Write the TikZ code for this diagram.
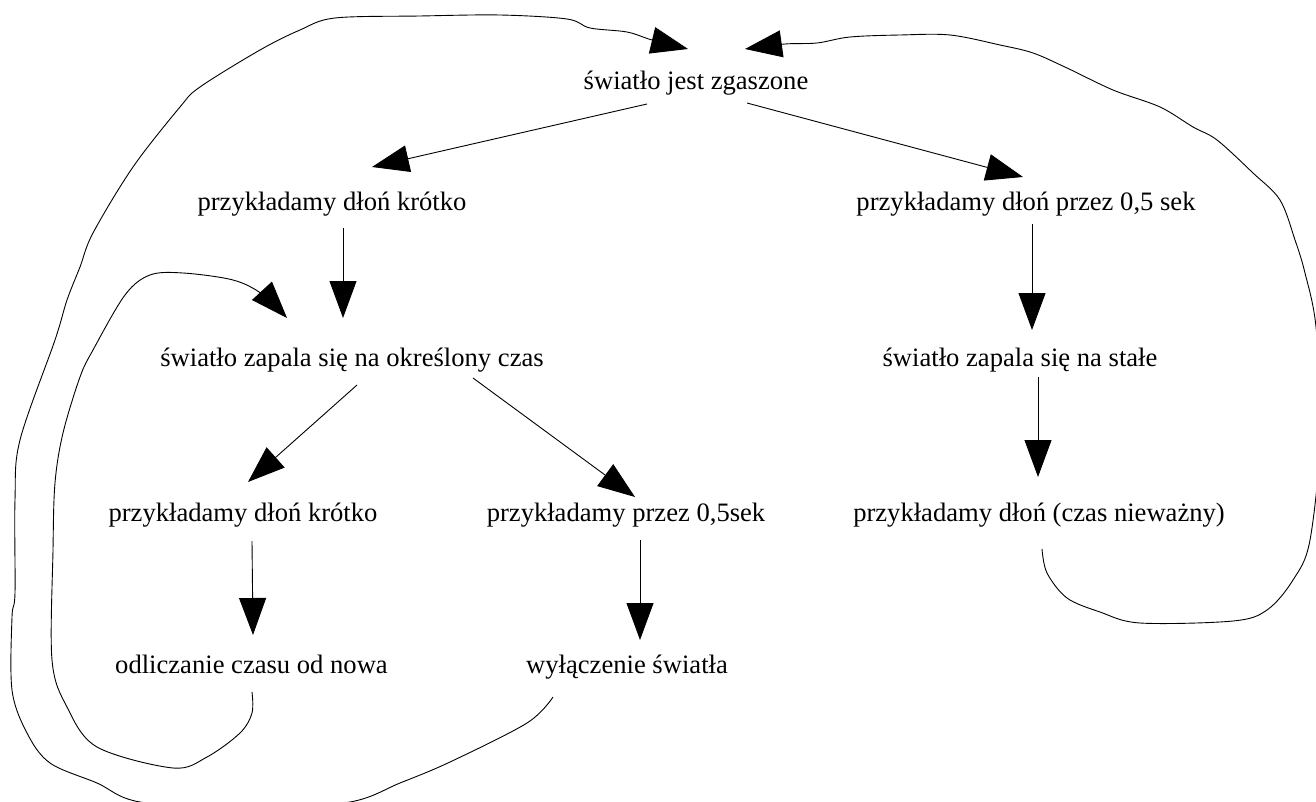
\documentclass[tikz,border=0pt]{standalone}
\usepackage{fontspec}
\setmainfont{Liberation Serif}
\usetikzlibrary{arrows.meta}

\tikzset{
  stan/.style={anchor=base, inner sep=0pt, font=\fontsize{26.6}{32}\selectfont},
  strz/.style={line width=0.9pt, -{Triangle[length=37pt,width=27pt]}},
  petla/.style={line width=0.9pt, -{Triangle[length=37pt,width=27pt]}, smooth, tension=0.55},
}

\begin{document}
\begin{tikzpicture}[x=1pt, y=-1pt]
    \useasboundingbox (0,0) rectangle (1316,802);

    % States
    \node[stan] (zgaszone)  at (696,90)    {światło jest zgaszone};
    \node[stan] (krotko)    at (332,211)   {przykładamy dłoń krótko};
    \node[stan] (pol)       at (1026,211)  {przykładamy dłoń przez 0,5 sek};
    \node[stan] (czas)      at (352,366)   {światło zapala się na określony czas};
    \node[stan] (stale)     at (1020,366)  {światło zapala się na stałe};
    \node[stan] (krotko2)   at (243,521)   {przykładamy dłoń krótko};
    \node[stan] (pol2)      at (626,521)   {przykładamy przez 0,5sek};
    \node[stan] (dowolnie)  at (1039,521)  {przykładamy dłoń (czas nieważny)};
    \node[stan] (odnowa)    at (251.5,673) {odliczanie czasu od nowa};
    \node[stan] (wylacz)    at (627,673)   {wyłączenie światła};

    % Straight transitions
    \draw[strz] ([shift={(-49,14)}]zgaszone.base) -- ([shift={(40,-44)}]krotko.base);
    \draw[strz] ([shift={(51,13)}]zgaszone.base) -- ([shift={(-3,-34)}]pol.base);
    \draw[strz] ([shift={(11,17)}]krotko.base) -- ([shift={(-9,-48)}]czas.base);
    \draw[strz] ([shift={(6,13)}]pol.base) -- ([shift={(12,-36)}]stale.base);
    \draw[strz] ([shift={(5,19)}]czas.base) -- ([shift={(5,-39)}]krotko2.base);
    \draw[strz] ([shift={(121,12)}]czas.base) -- ([shift={(9,-24)}]pol2.base);
    \draw[strz] ([shift={(18,11)}]stale.base) -- ([shift={(-1,-44)}]dowolnie.base);
    \draw[strz] ([shift={(9,20)}]krotko2.base) -- ([shift={(1.5,-38)}]odnowa.base);
    \draw[strz] ([shift={(14,19)}]pol2.base) -- ([shift={(13,-33)}]wylacz.base);

    % Loop back: restart the timer
    \draw[petla] plot coordinates {([shift={(0.5,19)}]odnowa.base) (252,713) (240,733)
        (207,757) (173,768) (97,747) (67,707) (52,660) (53,550) (55,483) (63,433)
        (80,377) (93,350) (125,295) (150,275) (183,273) (233,280) (262,294)
        ([shift={(-65,-48)}]czas.base)};

    % Loop back: light off
    \draw[petla] plot coordinates {([shift={(-74,24)}]wylacz.base) (527,723) (450,762)
        (400,783) (350,802) (250,810) (140,802) (97,783) (50,763) (27,733) (12,690)
        (12,617) (15,593) (15,500) (20,440) (55,340) (67,300) (80,267) (93,233)
        (133,167) (180,107) (200,87) (260,50) (300,30) (335,18) (420,16) (500,15)
        (567,19) (590,28) (627,32) (652,40) ([shift={(-8,-41)}]zgaszone.base)};

    % Loop back: permanent light off
    \draw[petla] plot coordinates {([shift={(3,28)}]dowolnie.base) (1047,573) (1067,598)
        (1100,612) (1140,623) (1233,621) (1267,610) (1293,580) (1310,540) (1321,430)
        (1316,327) (1305,273) (1295,240) (1280,200) (1253,173) (1217,140) (1193,127)
        (1160,107) (1113,90) (1067,68) (1033,53) (1000,45) (950,35) (900,35) (850,37)
        (817,43) (785,44) ([shift={(49,-41)}]zgaszone.base)};
\end{tikzpicture}
\end{document}
